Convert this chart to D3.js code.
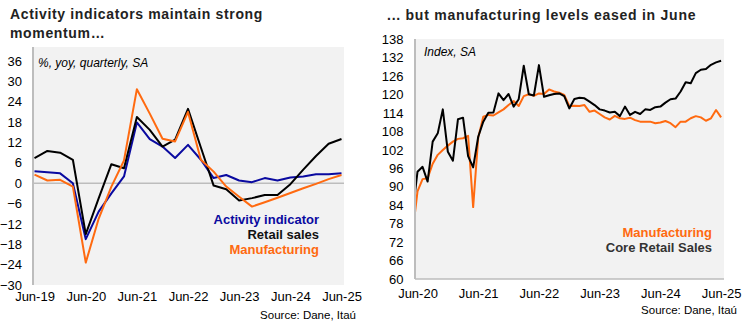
<!DOCTYPE html>
<html><head><meta charset="utf-8">
<script src="https://cdn.jsdelivr.net/npm/d3@7"></script>
<style>
body{margin:0;background:#fff;}
svg{display:block;font-family:"Liberation Sans",Arial,sans-serif;}
</style></head>
<body>
<svg id="c" width="749" height="323"></svg>
<script>
// ---------- Left chart data (quarterly, % yoy) ----------
const quarters = ["Jun-19","Sep-19","Dec-19","Mar-20","Jun-20","Sep-20","Dec-20","Mar-21","Jun-21","Sep-21","Dec-21","Mar-22","Jun-22","Sep-22","Dec-22","Mar-23","Jun-23","Sep-23","Dec-23","Mar-24","Jun-24","Sep-24","Dec-24","Mar-25","Jun-25"];
const activity = [3.5,3.2,2.9,0,-16.5,-8.4,-3,2,17.9,13,10.8,7.4,11.3,6.9,1.5,2.4,0.8,0.3,1.5,0.8,1.7,2,2.6,2.6,2.9];
const retail = [7.4,9.5,9.0,6.9,-15,-4.5,5.6,4.4,19.5,15.7,10.8,12.8,21.9,10.5,-0.7,-1.8,-5.1,-4.4,-3.5,-3.5,-0.3,4,8,11.6,13];
const manufQ = [2.5,0.8,1.0,-1,-23.4,-10.5,-1,6.7,27.7,20.5,13.1,12.3,21,6.9,3.4,-1,-4,-6.9,-5.6,-4.3,-2.9,-1.5,-0.2,1.2,2.4];
const leftYTicks = [36,30,24,18,12,6,0,-6,-12,-18,-24,-30];
const leftXTicks = ["Jun-19","Jun-20","Jun-21","Jun-22","Jun-23","Jun-24","Jun-25"];

// ---------- Right chart data (monthly index, May-20 .. Jun-25) ----------
const monthStart = new Date(2020,4,1), monthEnd = new Date(2025,6,1);
const months = d3.timeMonth.range(monthStart, monthEnd);
const manufIdx = [74.5,88.5,92.5,92.8,97.5,100.4,102,103.4,104.7,105.6,105.8,106.6,83.4,106,112.8,113.4,113.2,114.2,115.2,116.6,117.9,116.3,119.5,120.1,119.6,120.4,120.2,121.7,121,120.6,119.9,116.3,116.4,116.3,116.6,114.4,114.8,113.7,112.6,111.9,113.1,112.3,112.1,112.5,111.7,111.2,111.2,111.2,110.7,110.9,111.4,110.7,109.4,111.2,111.2,112.3,113,112.6,111.5,112.3,115,112.6];
const coreRetail = [81,94.9,96.5,91.7,104.7,107.4,115.2,101.4,98.5,112,112.5,100,96.3,106.3,111.2,114.1,114.2,120.4,118.2,120.2,116.1,118.5,129.4,120.1,119.7,129.6,119.3,119.8,120.2,120.4,119.5,115.5,118.6,119,118.8,117.7,116.6,115.2,114.8,114.2,114.4,113,116.1,113.4,114.4,113.7,115.2,115,115.9,116.1,117.4,118.5,118.7,121,124,123.7,127,128.1,128.3,129.7,130.5,131];
const rightYTicks = [138,132,126,120,114,108,102,96,90,84,78,72,66,60];
const rightXTicks = ["Jun-20","Jun-21","Jun-22","Jun-23","Jun-24","Jun-25"];

const ORANGE="#FF6A10", BLUE="#0A0AA0", BLACK="#000000", AXIS="#BDBDBD", BG="#F2F2F2";
const svg = d3.select("#c");
const parseQ = d3.timeParse("%b-%y");

// ================= LEFT CHART =================
const L = {x0:33, x1:344, top:47, bottom:285};
const xL = d3.scaleTime().domain([parseQ("Jun-19"), parseQ("Jun-25")]).range([34.5, 341.5]);
const yL = d3.scaleLinear().domain([-30,36]).range([285,61]);
const gL = svg.append("g");
gL.append("rect").attr("x",L.x0).attr("y",L.top).attr("width",L.x1-L.x0).attr("height",L.bottom-L.top).attr("fill",BG);
gL.append("line").attr("x1",L.x0).attr("x2",L.x1).attr("y1",yL(0)).attr("y2",yL(0)).attr("stroke",AXIS).attr("stroke-width",1.5);
gL.append("line").attr("x1",L.x0).attr("x2",L.x0).attr("y1",L.top).attr("y2",L.bottom).attr("stroke",AXIS).attr("stroke-width",2);

const yAxL = d3.axisLeft(yL).tickValues(leftYTicks).tickSize(0).tickPadding(0).tickFormat(d3.format("d"));
gL.append("g").attr("transform","translate(22,0)").call(yAxL)
  .call(g=>g.select(".domain").remove())
  .selectAll("text").attr("font-size",13).attr("fill","#000").attr("font-family","Liberation Sans, Arial, sans-serif");
const xAxL = d3.axisBottom(xL).tickValues(leftXTicks.map(parseQ)).tickSize(0).tickPadding(0).tickFormat(d3.timeFormat("%b-%y"));
gL.append("g").attr("transform","translate(0,292)").call(xAxL)
  .call(g=>g.select(".domain").remove())
  .selectAll("text").attr("font-size",13).attr("fill","#000").attr("font-family","Liberation Sans, Arial, sans-serif");

const lineL = d3.line().x((d,i)=>xL(parseQ(quarters[i]))).y(d=>yL(d));
[[activity,BLUE],[retail,BLACK],[manufQ,ORANGE]].forEach(([s,c])=>{
  gL.append("path").datum(s).attr("d",lineL).attr("fill","none").attr("stroke",c).attr("stroke-width",2).attr("stroke-linejoin","round");
});

gL.append("text").attr("x",10).attr("y",14).attr("dominant-baseline","central").attr("font-size",14).attr("font-weight","bold").attr("letter-spacing","0.65px").attr("fill","#222").text("Activity indicators maintain strong");
gL.append("text").attr("x",10).attr("y",33).attr("dominant-baseline","central").attr("font-size",14).attr("font-weight","bold").attr("letter-spacing","0.65px").attr("fill","#222").text("momentum…");
gL.append("text").attr("x",38).attr("y",62.5).attr("dominant-baseline","central").attr("font-size",12).attr("font-style","italic").attr("fill","#000").text("%, yoy, quarterly, SA");

const legL = [["Activity indicator",BLUE,219.5],["Retail sales","#111",234.5],["Manufacturing",ORANGE,249.5]];
legL.forEach(([t,c,y])=>gL.append("text").attr("x",319).attr("y",y).attr("text-anchor","end").attr("dominant-baseline","central").attr("font-size",13).attr("font-weight","bold").attr("fill",c).text(t));
gL.append("text").attr("x",356).attr("y",315).attr("text-anchor","end").attr("dominant-baseline","central").attr("font-size",11.5).attr("fill","#000").text("Source: Dane, Itaú");

// ================= RIGHT CHART =================
const R = {x0:415, x1:724, top:39, bottom:279};
const xR = d3.scaleLinear().domain([1,61]).range([417.5,721.1]); // month index: 1 = Jun-20
const yR = d3.scaleLinear().domain([60,138]).range([279,39.3]);
const gR = svg.append("g");
gR.append("rect").attr("x",R.x0).attr("y",R.top).attr("width",R.x1-R.x0).attr("height",R.bottom-R.top).attr("fill",BG);
svg.append("defs").append("clipPath").attr("id","clipR").append("rect").attr("x",R.x0+1).attr("y",R.top).attr("width",R.x1-R.x0-1).attr("height",R.bottom-R.top);

const yAxR = d3.axisLeft(yR).tickValues(rightYTicks).tickSize(0).tickPadding(0).tickFormat(d3.format("d"));
gR.append("g").attr("transform","translate(403.5,0)").call(yAxR)
  .call(g=>g.select(".domain").remove())
  .selectAll("text").attr("font-size",13).attr("fill","#000").attr("font-family","Liberation Sans, Arial, sans-serif");
const fmtM = d3.timeFormat("%b-%y");
const xAxR = d3.axisBottom(xR).tickValues(rightXTicks.map(t=>months.findIndex(m=>fmtM(m)===t))).tickSize(0).tickPadding(0).tickFormat(i=>fmtM(months[i]));
gR.append("g").attr("transform","translate(0,289)").call(xAxR)
  .call(g=>g.select(".domain").remove())
  .selectAll("text").attr("font-size",13).attr("fill","#000").attr("font-family","Liberation Sans, Arial, sans-serif");

const lineR = d3.line().x((d,i)=>xR(i)).y(d=>yR(d));
const gLines = gR.append("g").attr("clip-path","url(#clipR)");
gLines.append("path").datum(manufIdx).attr("d",lineR).attr("fill","none").attr("stroke",ORANGE).attr("stroke-width",2).attr("stroke-linejoin","round");
gLines.append("path").datum(coreRetail).attr("d",lineR).attr("fill","none").attr("stroke",BLACK).attr("stroke-width",2).attr("stroke-linejoin","round");

gR.append("line").attr("x1",R.x0).attr("x2",R.x0).attr("y1",R.top).attr("y2",R.bottom).attr("stroke",AXIS).attr("stroke-width",2);
gR.append("line").attr("x1",R.x0).attr("x2",R.x1).attr("y1",R.bottom).attr("y2",R.bottom).attr("stroke",AXIS).attr("stroke-width",1.5);

gR.append("text").attr("x",387).attr("y",15).attr("dominant-baseline","central").attr("font-size",14).attr("font-weight","bold").attr("letter-spacing","0.75px").attr("fill","#222").text("... but manufacturing levels eased in June");
gR.append("text").attr("x",424).attr("y",51.5).attr("dominant-baseline","central").attr("font-size",12).attr("font-style","italic").attr("fill","#000").text("Index, SA");
gR.append("text").attr("x",712).attr("y",232.5).attr("text-anchor","end").attr("dominant-baseline","central").attr("font-size",13).attr("font-weight","bold").attr("fill",ORANGE).text("Manufacturing");
gR.append("text").attr("x",712).attr("y",247.5).attr("text-anchor","end").attr("dominant-baseline","central").attr("font-size",13).attr("font-weight","bold").attr("fill","#333").text("Core Retail Sales");
gR.append("text").attr("x",737).attr("y",310).attr("text-anchor","end").attr("dominant-baseline","central").attr("font-size",11.5).attr("fill","#000").text("Source: Dane, Itaú");
</script>
</body></html>
